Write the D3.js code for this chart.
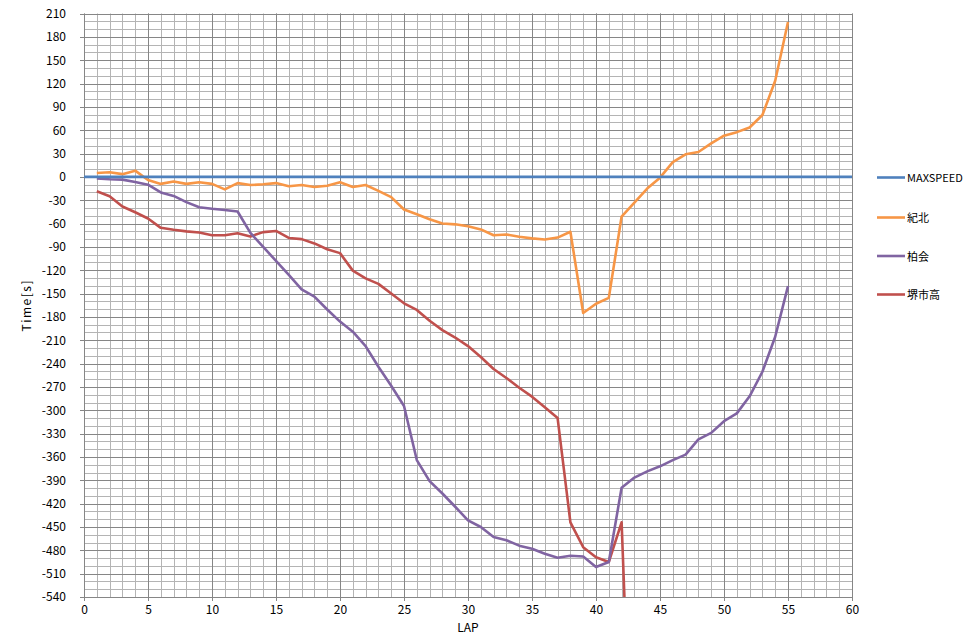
<!DOCTYPE html>
<html><head><meta charset="utf-8">
<script src="https://cdn.jsdelivr.net/npm/d3@7/dist/d3.min.js"></script>
<style>body{margin:0;background:#fff}svg{display:block}text{font-family:"Noto Sans CJK JP","Noto Sans",sans-serif;fill:#000}</style>
</head><body><svg id="c" width="977" height="638"></svg>
<script>
const laps = [1,2,3,4,5,6,7,8,9,10,11,12,13,14,15,16,17,18,19,20,21,22,23,24,25,26,27,28,29,30,31,32,33,34,35,36,37,38,39,40,41,42,43,44,45,46,47,48,49,50,51,52,53,54,55];
const maxspeedLaps = [0, 60];
const maxspeed = [0, 0];
const kihoku = [5,6,3.5,8,-4,-9,-6,-9,-7,-9,-16,-8,-10.5,-9.5,-8,-12,-10.5,-13,-11.5,-7,-13,-10.5,-18,-26,-42,-48,-54.5,-60,-61,-63.5,-67.5,-75,-74,-77,-79,-80.5,-78,-70.5,-175,-163,-155.5,-51,-33,-15,-1,19,29,32,43,53,57.5,63.5,79.5,123.5,199];
const kashiwa = [-2,-3,-3.5,-6.5,-10,-20,-24.5,-32.5,-39,-41,-42.5,-44.5,-72,-90,-108,-126,-144.5,-154,-170.5,-186,-199,-217.5,-244,-268.5,-294.5,-364,-391,-407,-424,-441.5,-450,-463,-467,-474,-478,-484.5,-489.5,-487,-488,-501.5,-495,-399.5,-386.5,-378.5,-372,-364,-357,-337.5,-329,-314,-304,-282,-250.5,-205.5,-140.5];
const sakaiLaps = [1,2,3,4,5,6,7,8,9,10,11,12,13,14,15,16,17,18,19,20,21,22,23,24,25,26,27,28,29,30,31,32,33,34,35,36,37,38,39,40,41,42,43];
const sakai = [-18.5,-25,-38,-45.5,-53.5,-65.5,-68,-70,-71.5,-75,-75,-72.5,-76.5,-71,-69.5,-78.5,-80,-85.5,-93,-98,-120.5,-130.5,-137.5,-150,-162.5,-171,-185,-197,-206.5,-217.5,-231.5,-247,-258.5,-271,-282.5,-296,-310,-444,-476,-489,-495,-444,-880];
const seriesNames = ["MAXSPEED","紀北","柏会","堺市高"];
const seriesColors = ["#4F81BD","#F79646","#8064A2","#C0504D"];
const xTicks = [0,5,10,15,20,25,30,35,40,45,50,55,60];
const yTicks = [210,180,150,120,90,60,30,0,-30,-60,-90,-120,-150,-180,-210,-240,-270,-300,-330,-360,-390,-420,-450,-480,-510,-540];

const svg = d3.select("#c");
const L = 84, R = 852, T = 13.5, B = 597;
const x = d3.scaleLinear().domain([0,60]).range([L,R]);
const y = d3.scaleLinear().domain([-540,210]).range([B,T]);

const g = svg.append("g");
const minorX = d3.range(0,61,1), minorY = d3.range(-540,211,10);
g.selectAll(".mx").data(minorX).enter().append("line")
  .attr("x1",d=>Math.round(x(d))+0.5).attr("x2",d=>Math.round(x(d))+0.5).attr("y1",T).attr("y2",B)
  .attr("stroke","#b4b4b4").attr("stroke-width",1);
g.selectAll(".my").data(minorY).enter().append("line")
  .attr("y1",d=>Math.round(y(d))+0.5).attr("y2",d=>Math.round(y(d))+0.5).attr("x1",L).attr("x2",R)
  .attr("stroke","#b4b4b4").attr("stroke-width",1);
g.selectAll(".Mx").data(xTicks).enter().append("line")
  .attr("x1",d=>Math.round(x(d))+0.5).attr("x2",d=>Math.round(x(d))+0.5).attr("y1",T).attr("y2",B+4)
  .attr("stroke","#868686").attr("stroke-width",1);
g.selectAll(".My").data(yTicks).enter().append("line")
  .attr("y1",d=>Math.round(y(d))+0.5).attr("y2",d=>Math.round(y(d))+0.5).attr("x1",L-4).attr("x2",R)
  .attr("stroke","#868686").attr("stroke-width",1);

const yAxis = d3.axisLeft(y).tickValues(yTicks).tickSize(0).tickPadding(18).tickFormat(d=>d);
svg.append("g").attr("transform",`translate(${L},0)`).call(yAxis)
  .call(s=>s.select(".domain").remove())
  .call(s=>s.selectAll("text").attr("font-size",12).attr("font-family",'"Noto Sans CJK JP",sans-serif').attr("fill","#000"));
const xAxis = d3.axisBottom(x).tickValues(xTicks).tickSize(0).tickPadding(8);
svg.append("g").attr("transform",`translate(0,${B})`).call(xAxis)
  .call(s=>s.select(".domain").remove())
  .call(s=>s.selectAll("text").attr("font-size",12).attr("font-family",'"Noto Sans CJK JP",sans-serif').attr("fill","#000"));

svg.append("text").attr("x",x(30)).attr("y",632).attr("text-anchor","middle").attr("font-size",12).text("LAP");
svg.append("text").attr("transform",`translate(31,${(T+B)/2}) rotate(-90)`).attr("text-anchor","middle").attr("font-size",12).attr("letter-spacing","1.5").text("Time[s]");

svg.append("clipPath").attr("id","clip").append("rect").attr("x",L).attr("y",T-3).attr("width",R-L+3).attr("height",B-T+3);
const line = d3.line().x(d=>x(d[0])).y(d=>y(d[1]));
const series = [
  d3.zip(maxspeedLaps, maxspeed),
  d3.zip(laps, kihoku),
  d3.zip(laps, kashiwa),
  d3.zip(sakaiLaps, sakai)
];
const lg = svg.append("g").attr("clip-path","url(#clip)");
[3,2,1,0].forEach(i=>{
  lg.append("path").datum(series[i]).attr("d",line).attr("fill","none")
    .attr("stroke",seriesColors[i]).attr("stroke-width",2.6).attr("stroke-linejoin","round");
});

const legY = [177.5,217.5,256,294.5];
seriesNames.forEach((n,i)=>{
  svg.append("line").attr("x1",877).attr("x2",905).attr("y1",legY[i]).attr("y2",legY[i])
    .attr("stroke",seriesColors[i]).attr("stroke-width",2.6);
  svg.append("text").attr("x",907).attr("y",legY[i]+4.5).attr("font-size",11).text(n);
});
</script></body></html>
